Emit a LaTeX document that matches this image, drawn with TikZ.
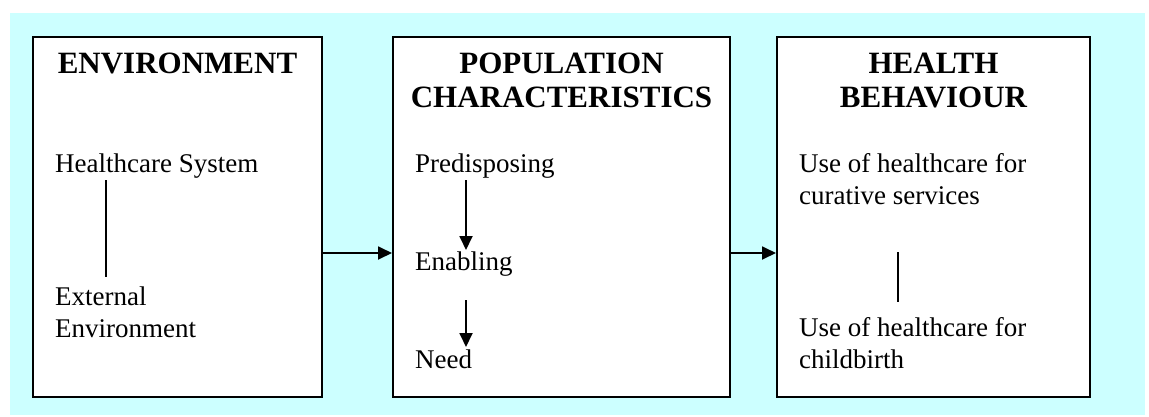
\documentclass[tikz,border=0pt]{standalone}
\usepackage{fontspec}
\setmainfont{Liberation Serif}
\usetikzlibrary{arrows.meta}
\definecolor{bgcyan}{RGB}{204,255,255}
\begin{document}
\begin{tikzpicture}[x=1pt,y=-1pt,
  box/.style={draw=black, line width=2pt, fill=white, minimum width=#1, minimum height=360pt, inner sep=0pt},
  title/.style={font=\fontsize{31}{34}\selectfont\bfseries, align=center, anchor=base, inner sep=0pt},
  lbl/.style={font=\fontsize{27}{32}\selectfont, align=left, anchor=base west, inner sep=0pt},
  conn/.style={line width=1.8pt},
  arr/.style={line width=1.8pt, -{Triangle[length=14pt,width=13pt]}}]
\useasboundingbox (0,0) rectangle (1149,416);
\fill[bgcyan] (10,13) rectangle (1145,415);
% boxes
\node[box=289pt] (env) at (177.5,217) {};
\node[box=337pt] (pop) at (561.5,217) {};
\node[box=313pt] (beh) at (933.5,217) {};
% titles (multi-line nodes: base = last line)
\node[title] (envt) at (177.5,73) {ENVIRONMENT};
\node[title] (popt) at (561.5,107) {POPULATION\\CHARACTERISTICS};
\node[title] (beht) at (933.5,107) {HEALTH\\BEHAVIOUR};
% labels
\node[lbl] (hs) at (55,172) {Healthcare System};
\node[lbl] (ext) at (55,337) {External\\Environment};
\node[lbl] (pre) at (415,172) {Predisposing};
\node[lbl] (ena) at (415,270) {Enabling};
\node[lbl] (need) at (415,368) {Need};
\node[lbl] (cur) at (799,204) {Use of healthcare for\\curative services};
\node[lbl] (cb) at (799,368) {Use of healthcare for\\childbirth};
% x positions of inner connectors
\coordinate (xa) at (106,0);
\coordinate (xb) at (466,0);
\coordinate (xc) at (898,0);
% inner connectors
\draw[conn] ([yshift=-8pt]hs.base -| xa) -- ([yshift=60pt]ext.base -| xa);
\draw[arr] ([yshift=-8pt]pre.base -| xb) -- ([yshift=20pt]ena.base -| xb);
\draw[arr] ([yshift=-30pt]ena.base -| xb) -- ([yshift=21pt]need.base -| xb);
\draw[conn] ([yshift=-48pt]cur.base -| xc) -- ([yshift=66pt]cb.base -| xc);
% main arrows
\draw[arr] ([yshift=-36pt]env.east) -- ([yshift=-36pt]pop.west);
\draw[arr] ([yshift=-36pt]pop.east) -- ([yshift=-36pt]beh.west);
\end{tikzpicture}
\end{document}
